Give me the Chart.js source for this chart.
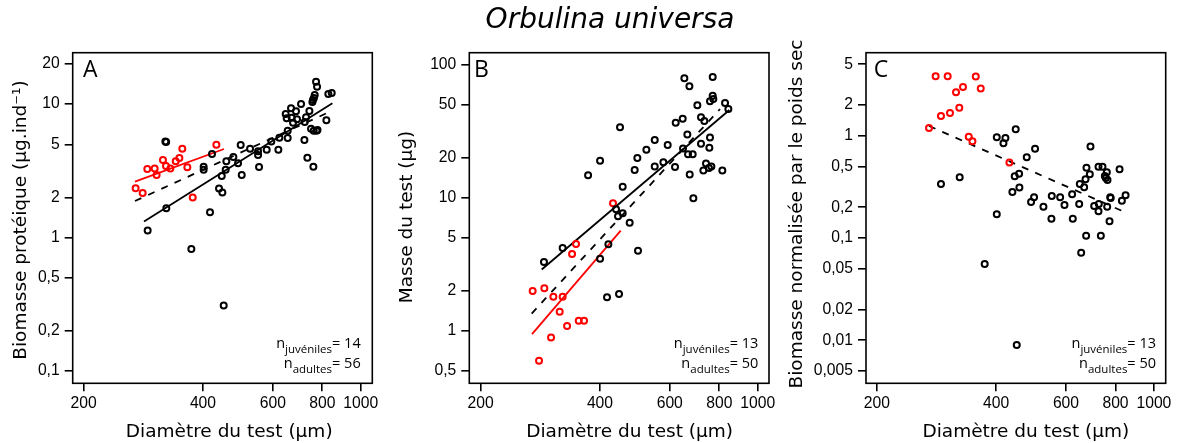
<!DOCTYPE html>
<html>
<head>
<meta charset="utf-8">
<script src="https://cdn.jsdelivr.net/npm/chart.js@4.4.1/dist/chart.umd.min.js"></script>
<style>
html,body{margin:0;padding:0;background:#fff;}
#wrap{position:relative;width:1183px;height:443px;overflow:hidden;background:#fff;}
#wrap canvas{position:absolute;top:0;}
.title{position:absolute;top:2.1px;left:610px;transform:translateX(-50%);font-family:'DejaVu Sans';font-style:italic;font-size:28px;line-height:33px;white-space:nowrap;color:#000;}
.letter{position:absolute;top:52.9px;font-family:'Open Sans';font-size:23px;line-height:31px;color:#000;}
.nbox{position:absolute;top:332.6px;font-family:'Open Sans';font-size:14.5px;line-height:20.2px;text-align:right;white-space:nowrap;color:#000;}
.nbox sub{font-size:11.5px;vertical-align:-5px;line-height:0;}
</style>
</head>
<body>
<div id="wrap">
  <canvas id="cA" width="394" height="443" style="left:0px"></canvas>
  <canvas id="cB" width="388" height="443" style="left:394px"></canvas>
  <canvas id="cC" width="401" height="443" style="left:782px"></canvas>
  <div class="title">Orbulina universa</div>
  <div class="letter" style="left:83px">A</div>
  <div class="letter" style="left:474px">B</div>
  <div class="letter" style="left:873.7px">C</div>
  <div class="nbox" style="right:822.3px">n<sub>juvéniles</sub>= 14<br>n<sub>adultes</sub>= 56</div>
  <div class="nbox" style="right:424.7px">n<sub>juvéniles</sub>= 13<br>n<sub>adultes</sub>= 50</div>
  <div class="nbox" style="right:27px">n<sub>juvéniles</sub>= 13<br>n<sub>adultes</sub>= 50</div>
</div>
<script>
// ---------- tick labels ----------
const xTickValues = [200, 400, 600, 800, 1000];
const yTicksA = [0.1, 0.2, 0.5, 1, 2, 5, 10, 20];
const yTicksB = [0.5, 1, 2, 5, 10, 20, 50, 100];
const yTicksC = [0.005, 0.01, 0.02, 0.05, 0.1, 0.2, 0.5, 1, 2, 5];

// ---------- Panel A : biomasse protéique ----------
const diamA_juv = [270.5, 281.8, 289.5, 302.1, 305.6, 317.1, 322.7, 331.0, 341.5, 348.8, 354.8, 365.3, 376.9, 432.4];
const protA_juv = [2.34, 2.16, 3.27, 3.29, 2.95, 3.81, 3.44, 3.29, 3.73, 3.95, 4.64, 3.36, 2.00, 4.97];
const diamA_adu = [290.1, 323.3, 321.5, 323.0, 373.9, 401.6, 401.6, 416.7, 421.6, 439.1, 447.7, 446.1, 451.2, 456.4, 458.2, 477.2, 490.4, 498.0, 501.0, 525.9, 550.8, 550.8, 554.0, 579.2, 595.1, 619.8, 623.4, 654.3, 654.3, 646.8, 650.5, 667.1, 669.7, 675.0, 686.7, 690.8, 707.1, 721.0, 722.3, 728.0, 733.5, 742.2, 749.4, 755.3, 757.5, 759.6, 761.0, 765.6, 771.5, 776.0, 773.8, 778.0, 819.2, 828.6, 845.0, 762.0];
const protA_adu = [1.13, 1.66, 5.24, 5.20, 0.82, 3.40, 3.23, 1.55, 4.23, 2.33, 2.18, 2.89, 0.31, 3.23, 3.73, 4.02, 3.60, 4.94, 2.95, 4.64, 4.43, 4.16, 3.38, 4.56, 5.24, 4.56, 5.61, 5.58, 6.33, 8.44, 7.83, 9.31, 7.92, 7.27, 8.84, 7.70, 10.03, 5.39, 7.35, 7.97, 3.97, 8.89, 6.55, 10.38, 10.75, 3.40, 6.33, 11.71, 14.74, 13.52, 6.33, 6.40, 7.56, 11.92, 12.13, 11.1];
const fitA_juv_x = [269.5, 452.0], fitA_juv_y = [2.63, 4.61];
const fitA_all_x = [269.5, 836.9], fitA_all_y = [1.88, 8.79];
const fitA_adu_x = [284.0, 848.4], fitA_adu_y = [1.32, 10.14];

// ---------- Panel B : masse du test ----------
const diamB_juv = [270.5, 280.7, 289.5, 301.0, 305.1, 316.5, 322.0, 330.4, 340.1, 348.0, 353.5, 364.6, 431.5];
const massB_juv = [1.99, 0.598, 2.09, 0.894, 1.80, 1.39, 1.80, 1.09, 3.77, 4.49, 1.19, 1.19, 9.06];
const diamB_adu = [288.9, 322.0, 373.3, 400.2, 400.2, 416.7, 420.0, 439.1, 444.2, 449.4, 446.8, 456.4, 456.4, 475.3, 489.3, 497.0, 498.9, 523.8, 549.8, 549.8, 578.1, 592.8, 618.6, 621.1, 646.8, 648.0, 653.1, 664.5, 667.2, 672.5, 673.7, 685.5, 688.2, 704.4, 719.4, 719.4, 729.3, 733.5, 740.6, 753.6, 755.2, 758.0, 758.0, 764.0, 770.0, 770.0, 772.9, 814.4, 827.3, 843.4];
const massB_adu = [3.29, 4.19, 14.7, 18.9, 3.48, 1.79, 4.46, 8.17, 7.23, 33.7, 1.89, 7.62, 12.08, 6.48, 16.1, 19.8, 4.00, 22.9, 27.0, 17.1, 18.4, 24.8, 17.0, 36.5, 39.1, 23.4, 78.5, 29.8, 21.1, 68.4, 14.9, 21.1, 9.87, 49.2, 40.0, 25.4, 16.0, 37.6, 18.0, 16.7, 23.7, 28.3, 52.8, 17.1, 80.3, 58.2, 55.0, 16.0, 51.3, 46.2];
const fitB_juv_x = [269.5, 451.2], fitB_juv_y = [0.947, 5.65];
const fitB_all_x = [269.0, 803.5], fitB_all_y = [1.35, 46.2];
const fitB_adu_x = [285.1, 848.4], fitB_adu_y = [2.89, 45.4];

// ---------- Panel C : biomasse normalisée ----------
const diamC_juv = [270.7, 281.3, 290.2, 301.7, 305.8, 316.7, 322.8, 329.8, 341.0, 348.4, 355.2, 365.6, 431.9];
const normC_juv = [1.19, 3.82, 1.56, 3.82, 1.67, 2.66, 1.88, 3.00, 0.98, 0.882, 3.79, 2.89, 0.546];
const diamC_adu = [290.2, 323.5, 374.1, 401.3, 401.3, 417.2, 422.0, 439.4, 445.4, 448.0, 450.7, 456.9, 457.7, 477.6, 489.8, 498.4, 501.3, 526.3, 551.3, 552.4, 580.0, 594.8, 621.8, 624.2, 647.8, 650.2, 655.3, 666.8, 672.1, 674.5, 675.9, 689.1, 691.8, 706.8, 724.8, 724.8, 726.1, 734.7, 741.8, 752.0, 756.3, 760.7, 763.7, 762.3, 772.7, 775.8, 778.0, 819.1, 830.2, 848.2];
const normC_adu = [0.3375, 0.392, 0.0557, 0.1704, 0.966, 0.844, 0.951, 0.282, 0.401, 1.157, 0.00898, 0.426, 0.311, 0.616, 0.225, 0.250, 0.748, 0.2025, 0.1546, 0.2576, 0.250, 0.2103, 0.2676, 0.1546, 0.2151, 0.3375, 0.0719, 0.313, 0.375, 0.1054, 0.4875, 0.4197, 0.783, 0.2056, 0.4985, 0.1824, 0.2151, 0.1054, 0.4985, 0.404, 0.385, 0.439, 0.3695, 0.2025, 0.1456, 0.250, 0.246, 0.4697, 0.2318, 0.2616];
const fitC_all_x = [270.7, 843.3], fitC_all_y = [1.246, 0.1796];

// ---------- helpers ----------
const RED = '#ff0000', BLACK = '#000000';
function fmt(v) { return String(v).replace('.', ','); }
function pts(xs, ys) { return xs.map((x, i) => ({ x: x, y: ys[i] })); }
function scatterSet(label, xs, ys, color) {
  return { label: label, data: pts(xs, ys), showLine: false, pointStyle: 'circle',
    pointRadius: 3.0, pointHoverRadius: 3.0, pointBorderWidth: 2,
    pointBorderColor: color, pointBackgroundColor: 'rgba(0,0,0,0)', borderColor: color };
}
function lineSet(label, xs, ys, color, dashed) {
  return { label: label, data: pts(xs, ys), showLine: true, pointRadius: 0, pointHoverRadius: 0,
    borderColor: color, borderWidth: 1.8, borderDash: dashed ? [7, 7.5] : [], fill: false };
}
function shiftTitle(scale, dx, dy) {
  if (scale.$shifted) return;
  scale.$shifted = true;
  const orig = scale.drawTitle;
  scale.drawTitle = function () {
    const c = this.ctx; c.save(); c.translate(dx, dy); orig.call(this); c.restore();
  };
}
const boxPlugin = {
  id: 'box',
  afterDraw(chart) {
    const { ctx, chartArea: a } = chart;
    ctx.save();
    ctx.strokeStyle = '#000'; ctx.lineWidth = 1.6;
    ctx.strokeRect(a.left, a.top, a.right - a.left, a.bottom - a.top);
    ctx.restore();
  }
};
const tickFont = { family: 'Liberation Sans', size: 15.7 };
const titleFont = { family: 'DejaVu Sans', size: 18.5 };

function makePanel(p) {
  const gridOpts = { display: true, drawOnChartArea: false, drawTicks: true, tickLength: 8, color: '#000', lineWidth: 1.6 };
  new Chart(document.getElementById(p.canvas), {
    type: 'scatter',
    data: { datasets: p.datasets },
    options: {
      responsive: false, animation: false, events: [],
      layout: { padding: { left: p.padL, right: p.padR, top: 52.7, bottom: 0 } },
      plugins: { legend: { display: false }, tooltip: { enabled: false }, title: { display: false } },
      scales: {
        x: {
          type: 'logarithmic', position: 'bottom', min: p.xMin, max: p.xMax, bounds: 'data',
          afterBuildTicks: s => { s.ticks = xTickValues.map(v => ({ value: v })); },
          afterFit: s => { s.height = 59.7; },
          afterUpdate: s => shiftTitle(s, p.xShift, 0),
          ticks: { callback: v => fmt(v), autoSkip: false, maxRotation: 0, minRotation: 0, padding: 3, color: '#000', font: tickFont },
          grid: gridOpts, border: { display: false },
          title: { display: true, text: 'Diamètre du test (µm)', color: '#000', font: titleFont, padding: 0 }
        },
        y: {
          type: 'logarithmic', position: 'left', min: p.yMin, max: p.yMax, bounds: 'data',
          afterBuildTicks: s => { s.ticks = p.yTicks.map(v => ({ value: v })); },
          afterFit: s => { s.width = p.yW; },
          afterUpdate: s => shiftTitle(s, 0, p.yShift),
          ticks: { callback: v => fmt(v), autoSkip: false, padding: 5, color: '#000', font: tickFont },
          grid: gridOpts, border: { display: false },
          title: { display: true, text: p.yTitle, color: '#000', font: titleFont, padding: 0 }
        }
      }
    },
    plugins: [boxPlugin]
  });
}

makePanel({
  canvas: 'cA', padL: 9.9, yW: 62.8, padR: 21.7,
  xMin: 187.7, xMax: 1069.6, yMin: 0.0809, yMax: 24.3, yTicks: yTicksA,
  yTitle: 'Biomasse protéique (µg.ind⁻¹)', xShift: 6.7, yShift: 2,
  datasets: [
    scatterSet('adultes', diamA_adu, protA_adu, BLACK),
    scatterSet('juvéniles', diamA_juv, protA_juv, RED),
    lineSet('régression juvéniles', fitA_juv_x, fitA_juv_y, RED, false),
    lineSet('régression adultes', fitA_adu_x, fitA_adu_y, BLACK, false),
    lineSet('régression totale', fitA_all_x, fitA_all_y, BLACK, true)
  ]
});
makePanel({
  canvas: 'cB', padL: 1.6, yW: 73.7, padR: 13,
  xMin: 187.2, xMax: 1068, yMin: 0.4044, yMax: 122.2, yTicks: yTicksB,
  yTitle: 'Masse du test (µg)', xShift: 10.5, yShift: -1,
  datasets: [
    scatterSet('adultes', diamB_adu, massB_adu, BLACK),
    scatterSet('juvéniles', diamB_juv, massB_juv, RED),
    lineSet('régression juvéniles', fitB_juv_x, fitB_juv_y, RED, false),
    lineSet('régression adultes', fitB_adu_x, fitB_adu_y, BLACK, false),
    lineSet('régression totale', fitB_all_x, fitB_all_y, BLACK, true)
  ]
});
makePanel({
  canvas: 'cC', padL: 3.6, yW: 80.4, padR: 17.3,
  xMin: 187.7, xMax: 1071, yMin: 0.00379, yMax: 6.49, yTicks: yTicksC,
  yTitle: 'Biomasse normalisée par le poids sec', xShift: 10, yShift: -4,
  datasets: [
    scatterSet('adultes', diamC_adu, normC_adu, BLACK),
    scatterSet('juvéniles', diamC_juv, normC_juv, RED),
    lineSet('régression totale', fitC_all_x, fitC_all_y, BLACK, true)
  ]
});
</script>
</body>
</html>
